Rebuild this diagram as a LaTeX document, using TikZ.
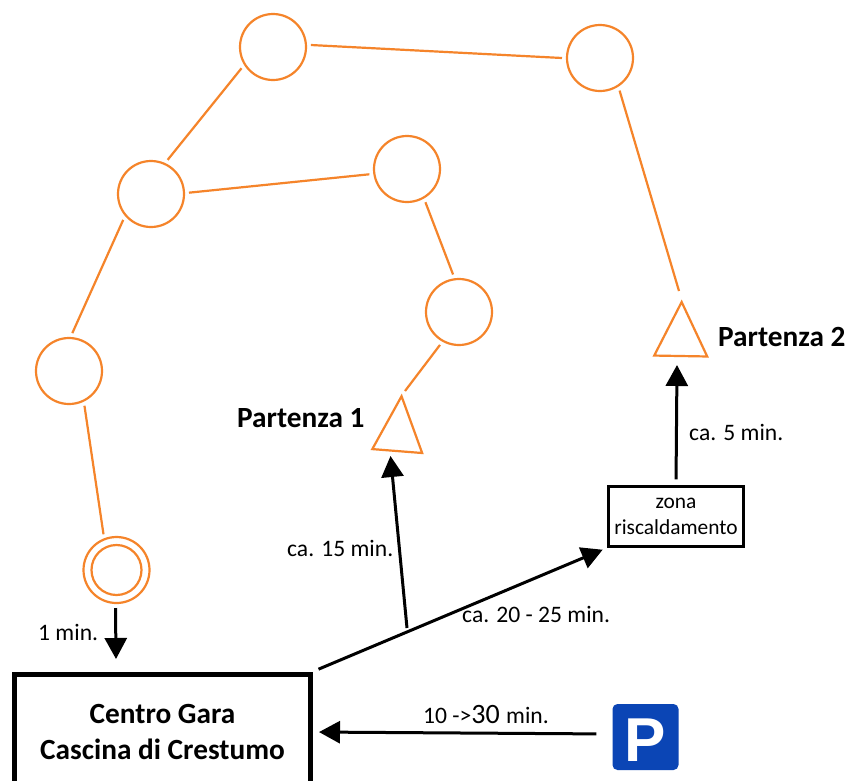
\documentclass[tikz,border=0pt]{standalone}
\usepackage{fontspec}
\setmainfont{Carlito}
\newfontfamily\signfont{Liberation Sans}
\usetikzlibrary{arrows.meta,shapes.geometric,calc}
\definecolor{routeorange}{HTML}{F5842A}
\definecolor{parkblue}{HTML}{0B45B5}
\tikzset{
  x=1pt,y=-1pt,
  stop/.style={circle,draw=routeorange,line width=2.2pt,minimum size=66pt,inner sep=0pt,outer sep=5pt},
  innerstop/.style={circle,draw=routeorange,line width=2.2pt,minimum size=50pt,inner sep=0pt},
  startmark/.style={isosceles triangle,isosceles triangle stretches,draw=routeorange,line width=2.2pt,inner sep=0pt,outer sep=0pt,shape border rotate=90},
  route/.style={draw=routeorange,line width=2.2pt},
  walk/.style={draw=black,line width=3pt,-{Triangle[length=21pt,width=22pt]}},
  timelabel/.style={font=\fontsize{23.6}{26}\selectfont,inner sep=0pt},
  startlabel/.style={font=\fontsize{29.3}{31}\selectfont\bfseries,inner sep=0pt},
}
\begin{document}
\begin{tikzpicture}
\clip (0,0) rectangle (848,780);
\path[fill=white] (0,0) rectangle (848,780);
% stops
\node[stop] (s1) at (273,47) {};
\node[stop] (s2) at (600,58) {};
\node[stop] (s3) at (151,194) {};
\node[stop] (s4) at (407,169) {};
\node[stop] (s5) at (459,312) {};
\node[stop] (s6) at (69,371) {};
\node[stop] (s7) at (116.5,570) {};
\node[innerstop] (s7i) at (116.5,570) {};
% start triangles
\node[startmark,minimum width=50pt,minimum height=55pt,rotate=-4.5] (t1) at (398.5,435) {};
\node[startmark,minimum width=53pt,minimum height=54pt,rotate=-1] (t2) at (681,339.5) {};
\coordinate (t1top) at (405,391);
\coordinate (t2top) at (679,291);
\coordinate (t1base) at (390.5,456);
\coordinate (t2base) at (677,365);
% boxes
\node[draw=black,line width=5pt,minimum width=296pt,minimum height=116pt,inner sep=0pt,align=center,
      font=\fontsize{29.3}{36}\selectfont\bfseries] (main) at (162.5,732) {Centro Gara\\Cascina di Crestumo};
\node[draw=black,line width=2.5pt,minimum width=135pt,minimum height=60pt,inner sep=0pt,align=center,
      font=\fontsize{21.4}{26}\selectfont] (zone) at (676,516.5) {zona\\riscaldamento};
\node[fill=parkblue,rounded corners=5pt,minimum size=66pt,inner sep=0pt,text=white,text height=48pt,text depth=0pt,
      font=\fontsize{62}{62}\selectfont\signfont\bfseries] (park) at (645.5,737) {P};
% orange route
\draw[route] (s1.3) -- (s2.180);
\draw[route] (s1.214) -- (s3.64);
\draw[route] (s3.2) -- (s4.188);
\draw[route] (s3.223) -- (s6.85);
\draw[route] (s6.294) -- (s7.110);
\draw[route] (s4.299) -- (s5.99);
\draw[route] (s5.240) -- (t1top);
\draw[route] (s2.301) -- (t2top);
% walking connectors
\coordinate (junc) at (407,628);
\coordinate (mainin) at (116,659);
\draw[walk] ([xshift=-1pt]s7.south) -- (mainin);
\draw[walk,shorten <=6pt,shorten >=5pt] (main.north east) -- (zone.south west);
\draw[walk] (junc) -- (t1base);
\draw[walk,shorten <=6pt] (zone.north) -- (t2base);
\draw[walk,shorten <=16pt,shorten >=6pt] ([yshift=3pt]park.west) -- (main.east);
% labels
\node[timelabel,anchor=west] (l1) at (38,632) {1 min.};
\node[timelabel,anchor=west] (l2) at (287,548) {ca. 15 min.};
\node[timelabel,anchor=west] (l3) at (462,614) {ca. 20 - 25 min.};
\node[timelabel,anchor=west] (l4) at (689,432) {ca. 5 min.};
\node[timelabel,anchor=west] (l5) at (423,714) {10 ->\fontsize{28}{28}\selectfont 30 \fontsize{23.6}{26}\selectfont min.};
\node[startlabel,anchor=west] (p1) at (237,418) {Partenza 1};
\node[startlabel,anchor=west] (p2) at (718,337) {Partenza 2};
\end{tikzpicture}
\end{document}
